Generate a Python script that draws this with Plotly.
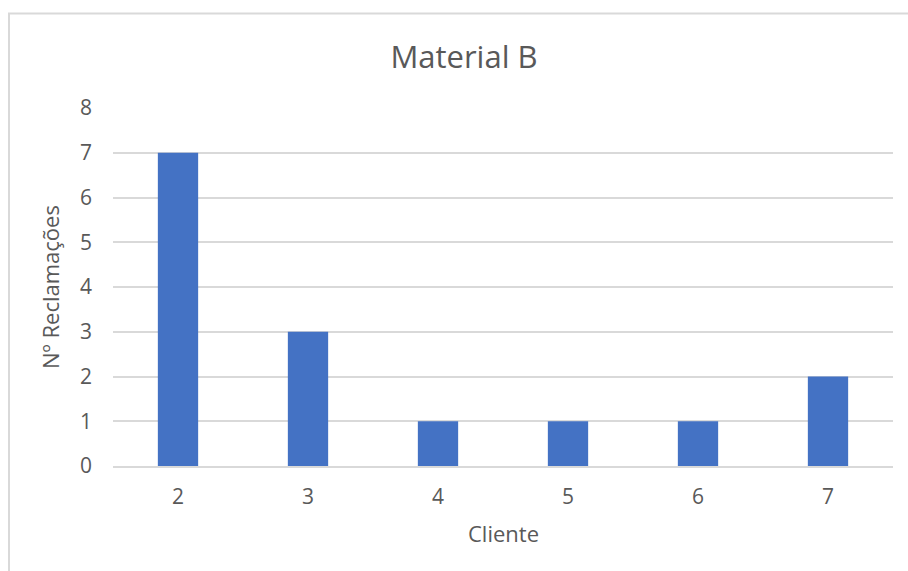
import plotly.graph_objects as go

clientes = ["2", "3", "4", "5", "6", "7"]
reclamacoes = [7, 3, 1, 1, 1, 2]
y_ticks = [0, 1, 2, 3, 4, 5, 6, 7, 8]

W, H = 908, 571
L, R, T, B = 113, 15, 108, 105
pw, ph = W - L - R, H - T - B

fig = go.Figure(go.Bar(
    x=clientes, y=reclamacoes,
    marker=dict(color="#4472C4", line=dict(width=0)),
))

txt = "#595959"
font = "Segoe UI, Open Sans, DejaVu Sans, sans-serif"

fig.update_layout(
    width=W, height=H,
    margin=dict(l=L, r=R, t=T, b=B),
    paper_bgcolor="white", plot_bgcolor="white",
    bargap=0.69,
    showlegend=False,
    font=dict(family=font, color=txt, size=21),
    title=dict(text="Material B", x=464 / W, xref="container", xanchor="center",
               y=1 - 57 / H, yref="container", yanchor="middle",
               font=dict(size=31, color=txt, family=font)),
    xaxis=dict(type="category", showgrid=False, showline=True, linecolor="#D9D9D9",
               linewidth=1.5, ticks="", ticklabelstandoff=11,
               tickfont=dict(size=21, color=txt)),
    yaxis=dict(range=[0, 8], tickvals=y_ticks, showgrid=True, gridcolor="#D9D9D9",
               gridwidth=1.5, zeroline=False, showline=False, ticks="",
               ticklabelstandoff=20, tickfont=dict(size=21, color=txt)),
    annotations=[
        dict(text="Cliente", xref="paper", yref="paper", x=0.5, y=0,
             xanchor="center", yanchor="middle", yshift=-67, showarrow=False,
             font=dict(size=22, color=txt, family=font)),
        dict(text="Nº Reclamações", xref="paper", yref="paper", x=0, y=0.5,
             xanchor="center", yanchor="middle", xshift=-63, textangle=-90,
             showarrow=False, font=dict(size=22, color=txt, family=font)),
    ],
    shapes=[dict(type="rect", xref="paper", yref="paper",
                 x0=(9 - L) / pw, x1=(W + 20 - L) / pw,
                 y0=-(B + 20) / ph, y1=(H - B - 13.5) / ph,
                 line=dict(color="#D9D9D9", width=2), fillcolor="rgba(0,0,0,0)",
                 layer="below")],
)

fig.write_html("out.html")
